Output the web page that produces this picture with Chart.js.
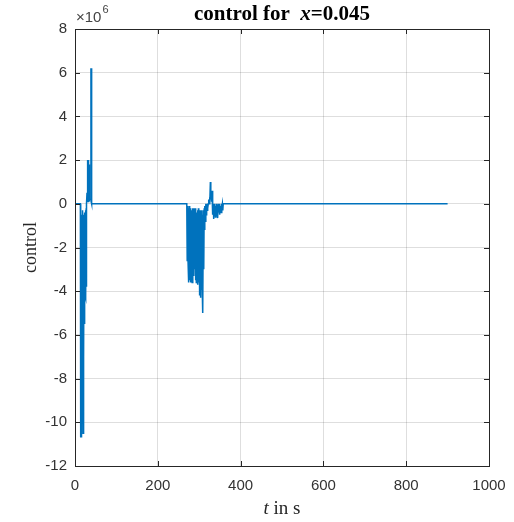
<!DOCTYPE html>
<html>
<head>
<meta charset="utf-8">
<script src="https://cdn.jsdelivr.net/npm/chart.js@4.4.0/dist/chart.umd.min.js"></script>
<style>
    html, body { margin: 0; padding: 0; background: #fff; }
    #wrap { width: 514px; height: 522px; position: relative; }
</style>
</head>
<body>
<div id="wrap"><canvas id="chart"></canvas></div>
<script>
// 時刻 (s) と制御入力 (×10^6)
const times = [
    0, 13, 13.5, 14, 14.5, 15, 15.5, 16, 16.5, 17, 17.5, 18, 18.5, 19, 19.5, 20, 20.5, 21, 21.5, 22,
    22.5, 23, 23.5, 24, 24.5, 25, 25.5, 26, 26.5, 27, 27.5, 28, 29, 30, 30.5, 31, 31.5, 32, 32.5, 33,
    33.5, 34, 34.5, 35, 38, 38.5, 39, 39.5, 40, 41,
    270, 271, 272, 273, 274, 275, 276, 277, 278, 279, 280, 281, 282, 283, 284, 285, 286, 287, 288, 289,
    290, 291, 292, 293, 294, 295, 296, 297, 298, 299, 300, 301, 302, 303, 304, 305, 306, 307, 308, 309,
    310, 311, 312, 313, 314, 315, 316, 317, 318, 319, 320, 321, 322, 323, 324, 325, 326, 327, 328, 329,
    330, 331, 332, 333, 334, 335, 336, 337, 338, 339, 340, 341, 342, 343, 344, 345, 346, 347, 348, 349,
    350, 351, 352, 353, 354, 355, 356, 357, 358, 360, 900
];
const control = [
    0, 0, -10.7, -0.3, -9.5, -0.5, -10.7, -1.0, -8.0, -0.5, -6.0, -0.3, -9.0, -0.8, -10.5, -0.5, -10.4, -1.0, -7.0, -0.5,
    -5.5, -0.4, -4.3, -0.5, -4.2, -0.3, -4.3, -0.5, -4.2, -0.2, -3.8, 0, 0.5, 1.3, 0.2, 2.0, 0.1, 1.9, 0.2, 2.0,
    0.1, 1.8, 0.1, 0.2, 0.2, 6.2, 0.1, 6.2, 0.1, 0,
    0, -2.6, -0.1, -2.6, -0.2, -3.6, -0.1, -3.5, -0.3, -3.6, -0.2, -3.4, -0.3, -3.6, -0.2, -3.2, -0.4, -3.3, -0.2, -3.0,
    -0.3, -3.5, -0.2, -3.6, -0.4, -3.5, -0.3, -3.7, -0.2, -3.6, -0.5, -4.2, -0.3, -4.3, -0.4, -3.9, -0.3, -3.6, -0.5, -5.0,
    -0.3, -3.0, -0.2, -1.2, -0.1, -0.8, 0, -0.5, 0, -0.3, 0, -0.2, 0, 0.2, 0, 0.3, 0, 1.0, 0.2, 0.6,
    0.1, 0.6, -0.1, -0.5, 0, -0.7, -0.1, -0.5, 0, -0.6, -0.1, -0.3, 0, -0.5, -0.1, -0.65, 0, -0.4, -0.1, -0.5,
    0, -0.3, -0.1, -0.4, 0, -0.2, 0, -0.3, 0, 0, 0
];
const xTicks = [0, 200, 400, 600, 800, 1000];
const yTicks = [-12, -10, -8, -6, -4, -2, 0, 2, 4, 6, 8];

const axisColor = '#262626';
const serif = '"Liberation Serif", "Times New Roman", serif';
const sans = '"Liberation Sans", Arial, sans-serif';

function drawMixed(ctx, parts, cx, cy) {
    let total = 0;
    parts.forEach(p => { ctx.font = p.font; p.w = ctx.measureText(p.text).width; total += p.w; });
    let x = cx - total / 2;
    ctx.textAlign = 'left';
    ctx.textBaseline = 'middle';
    parts.forEach(p => { ctx.font = p.font; ctx.fillText(p.text, x, cy); x += p.w; });
}

// MATLAB風の枠・目盛・タイトル
const matlabDecor = {
    id: 'matlabDecor',
    afterDraw(chart) {
        const { ctx, chartArea: a, scales: { x, y } } = chart;
        ctx.save();
        ctx.strokeStyle = axisColor;
        ctx.lineWidth = 1;
        ctx.strokeRect(Math.round(a.left) + 0.5, Math.round(a.top) + 0.5,
            Math.round(a.right - a.left), Math.round(a.bottom - a.top));
        ctx.beginPath();
        x.ticks.forEach(t => {
            const px = Math.round(x.getPixelForValue(t.value)) + 0.5;
            ctx.moveTo(px, a.bottom); ctx.lineTo(px, a.bottom - 5);
            ctx.moveTo(px, a.top); ctx.lineTo(px, a.top + 5);
        });
        y.ticks.forEach(t => {
            const py = Math.round(y.getPixelForValue(t.value)) + 0.5;
            ctx.moveTo(a.left, py); ctx.lineTo(a.left + 5, py);
            ctx.moveTo(a.right, py); ctx.lineTo(a.right - 5, py);
        });
        ctx.stroke();

        const cx = (a.left + a.right) / 2;
        ctx.fillStyle = '#000';
        drawMixed(ctx, [
            { text: 'control for  ', font: `bold 21px ${serif}` },
            { text: 'x', font: `italic bold 21px ${serif}` },
            { text: '=0.045', font: `bold 21px ${serif}` }
        ], cx, 15);

        ctx.fillStyle = axisColor;
        drawMixed(ctx, [
            { text: 't', font: `italic 19px ${serif}` },
            { text: ' in s', font: `19px ${serif}` }
        ], cx, 509);

        // 指数表示
        ctx.textAlign = 'left';
        ctx.textBaseline = 'alphabetic';
        ctx.font = `15px ${sans}`;
        ctx.fillStyle = '#444';
        ctx.fillText('\u00d710', a.left + 1, 22);
        const w = ctx.measureText('\u00d710').width;
        ctx.font = `11px ${sans}`;
        ctx.fillText('6', a.left + 1 + w + 1, 13);
        ctx.restore();
    }
};

const points = times.map((t, i) => ({ x: t, y: control[i] }));

new Chart(document.getElementById('chart'), {
    type: 'line',
    data: {
        datasets: [{
            label: 'control',
            data: points,
            borderColor: '#0072BD',
            borderWidth: 1.5,
            pointRadius: 0,
            tension: 0,
            fill: false
        }]
    },
    options: {
        responsive: true,
        maintainAspectRatio: false,
        animation: false,
        layout: { padding: { top: 29, right: 25, left: 0, bottom: 0 } },
        plugins: {
            legend: { display: false },
            tooltip: { enabled: false }
        },
        scales: {
            x: {
                type: 'linear',
                min: 0,
                max: 1000,
                afterBuildTicks: s => { s.ticks = xTicks.map(v => ({ value: v })); },
                afterFit: s => { s.height = 56; s.paddingLeft = 0; s.paddingRight = 0; },
                grid: { color: 'rgba(0,0,0,0.13)', drawTicks: false },
                border: { color: axisColor },
                ticks: {
                    padding: 11,
                    color: '#333',
                    font: { family: sans, size: 15 },
                    maxRotation: 0,
                    callback: v => String(v)
                }
            },
            y: {
                min: -12,
                max: 8,
                afterBuildTicks: s => { s.ticks = yTicks.map(v => ({ value: v })); },
                afterFit: s => { s.width = 75; s.paddingTop = 0; s.paddingBottom = 0; },
                grid: { color: 'rgba(0,0,0,0.13)', drawTicks: false },
                border: { color: axisColor },
                ticks: {
                    padding: 8,
                    color: '#333',
                    font: { family: sans, size: 15 },
                    callback: v => String(v)
                },
                title: {
                    display: true,
                    text: 'control',
                    color: axisColor,
                    font: { family: serif, size: 18 },
                    padding: { top: 20, bottom: 0 }
                }
            }
        }
    },
    plugins: [matlabDecor]
});
</script>
</body>
</html>
